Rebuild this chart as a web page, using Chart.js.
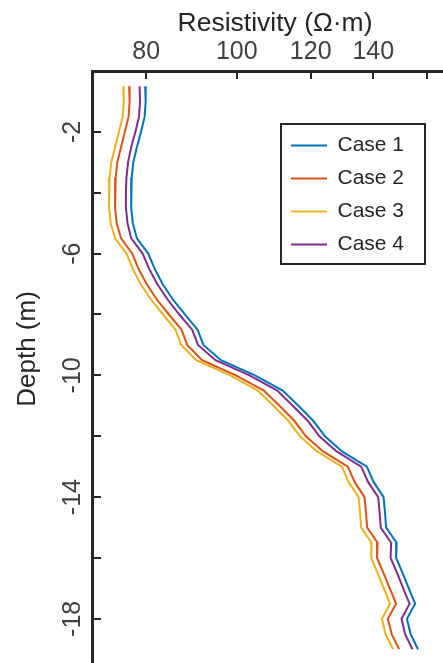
<!DOCTYPE html>
<html><head><meta charset="utf-8">
<script src="https://cdn.jsdelivr.net/npm/chart.js@4.4.1/dist/chart.umd.min.js"></script>
<style>
html,body{margin:0;padding:0;background:#fff;overflow:hidden;width:443px;height:663px}
#wrap{position:absolute;left:0;top:0;width:458px;height:663px}
</style>
</head><body><div id="wrap"><canvas id="c" width="458" height="663"></canvas></div>
<script>
const depth = [-0.5,-1,-1.5,-2,-2.5,-3,-3.5,-4,-4.5,-5,-5.5,-6,-6.5,-7,-7.5,-8,-8.5,-9,-9.5,-10,-10.5,-11,-11.5,-12,-12.5,-13,-13.5,-14,-14.5,-15,-15.5,-16,-16.5,-17,-17.5,-18,-18.5,-19];
const case1 = [79.8,79.9,79.7,79.0,78.2,77.5,77.2,77.1,77.1,77.4,78.2,80.4,81.7,83.3,85.4,88.0,90.8,92.1,96.2,104.6,112.0,116.4,120.8,124.3,129.6,137.8,140.1,143.6,144.1,144.5,148.3,148.1,150.5,152.8,155.2,152.1,153.5,156.3];
const case2 = [76.7,76.8,76.6,75.9,75.2,74.5,74.2,74.1,74.1,74.4,75.2,77.3,78.5,80.1,82.1,84.6,87.3,88.5,91.8,99.8,106.9,111.1,115.3,118.6,123.7,131.5,133.7,137.0,137.5,137.9,141.5,141.3,143.6,145.8,148.1,145.1,146.5,149.2];
const case3 = [75.6,75.7,75.5,74.8,74.1,73.4,73.1,73.0,73.0,73.3,74.1,76.2,77.4,78.9,80.9,83.4,86.0,87.2,90.5,98.4,105.3,109.5,113.6,116.9,121.9,129.6,131.7,135.0,135.5,135.9,139.4,139.3,141.5,143.7,145.9,143.0,144.3,147.0];
const case4 = [78.7,78.8,78.6,77.9,77.1,76.5,76.2,76.1,76.1,76.4,77.1,79.3,80.6,82.2,84.3,86.8,89.6,90.9,94.9,103.2,110.5,114.8,119.2,122.6,127.9,135.9,138.2,141.7,142.2,142.6,146.3,146.1,148.5,150.7,153.1,150.1,151.4,154.2];
const seriesNames = ['Case 1','Case 2','Case 3','Case 4'];
const xTicks = [80,100,120,140,160];
const xTickLabels = ['80','100','120','140',''];
const yTicks = [0,-2,-4,-6,-8,-10,-12,-14,-16,-18];
const yTickLabels = ['','-2','','-6','','-10','','-14','','-18'];

const FONT = "'Liberation Sans', Arial, Helvetica, sans-serif";
Chart.defaults.font.family = FONT;
const colors = ['#0072BD','#D95319','#EDB120','#7E2F8E'];
const series = [case1, case2, case3, case4];

const axisDecor = {
  id: 'axisDecor',
  afterInit(chart) {
    const lg = chart.legend;
    if (lg) {
      const i = chart.boxes.indexOf(lg);
      if (i >= 0) chart.boxes.splice(i, 1);
      lg.lineWidths = [0]; lg.columnSizes = []; lg.legendHitBoxes = [];
    }
  },
  afterDraw(chart) {
    const {ctx, chartArea: a, scales: {x, y}} = chart;
    ctx.save();
    ctx.strokeStyle = '#262626'; ctx.lineWidth = 2; ctx.lineCap = 'butt';
    x.ticks.forEach(t => {
      const px = Math.round(x.getPixelForValue(t.value));
      ctx.beginPath(); ctx.moveTo(px, a.top); ctx.lineTo(px, a.top + 8); ctx.stroke();
    });
    y.ticks.forEach(t => {
      if (t.value === 0) return;
      const py = Math.round(y.getPixelForValue(t.value));
      ctx.beginPath(); ctx.moveTo(a.left, py); ctx.lineTo(a.left + 9, py); ctx.stroke();
    });
    const lg = chart.legend;
    if (lg) {
      lg.update(146, 142, {left: 0, top: 0, right: 0, bottom: 0});
      lg.left = 279; lg.top = 123; lg.width = 147; lg.height = 142; lg.right = 426; lg.bottom = 265;
      ctx.fillStyle = '#fff'; ctx.fillRect(280, 123, 146, 142);
      lg.draw();
      ctx.lineWidth = 2; ctx.strokeStyle = '#262626';
      ctx.strokeRect(281, 124, 144, 140);
    }
    ctx.restore();
  }
};

new Chart(document.getElementById('c'), {
  type: 'scatter',
  data: {
    datasets: series.map((s, k) => ({
      label: seriesNames[k],
      data: depth.map((d, i) => ({x: s[i], y: d})),
      borderColor: colors[k], backgroundColor: colors[k],
      borderWidth: 2, pointRadius: 0, pointHoverRadius: 0,
      showLine: true, fill: false, tension: 0
    }))
  },
  options: {
    responsive: false, animation: false, devicePixelRatio: 1,
    layout: {padding: 0},
    plugins: {
      legend: {display: true, position: 'top', align: 'start',
        labels: {usePointStyle: true, pointStyle: 'line', pointStyleWidth: 36, padding: 12, color: '#262626', font: {size: 21}}},
      tooltip: {enabled: false}
    },
    scales: {
      x: {
        type: 'logarithmic', position: 'top', min: 70, max: 172.5,
        afterBuildTicks: s => { s.ticks = xTicks.map(v => ({value: v})); },
        afterFit: s => { s.height = 71; s.paddingLeft = 0; s.paddingRight = 0; },
        grid: {display: true, drawOnChartArea: false, drawTicks: false},
        border: {display: true, color: '#262626', width: 3},
        ticks: {autoSkip: false, maxRotation: 0, minRotation: 0, padding: 4, color: '#404040', font: {size: 25},
          callback: (v, i) => xTickLabels[i]},
        title: {display: true, text: 'Resistivity (Ω·m)', color: '#262626', font: {size: 26.5}, padding: {top: 8, bottom: 0}}
      },
      y: {
        type: 'linear', position: 'left', min: -19.45, max: 0,
        afterBuildTicks: s => { s.ticks = yTicks.map(v => ({value: v})); },
        afterFit: s => { s.width = 92; s.paddingTop = 0; s.paddingBottom = 0; },
        grid: {display: true, drawOnChartArea: false, drawTicks: false},
        border: {display: true, color: '#262626', width: 3},
        ticks: {autoSkip: false, minRotation: 90, maxRotation: 90, crossAlign: 'center', padding: 1, color: '#404040', font: {size: 25},
          callback: (v, i) => yTickLabels[i]},
        title: {display: true, text: '     Depth (m)', color: '#262626', font: {size: 26}, padding: {top: 12, bottom: 0}}
      }
    }
  },
  plugins: [axisDecor]
});
</script>
</body></html>
